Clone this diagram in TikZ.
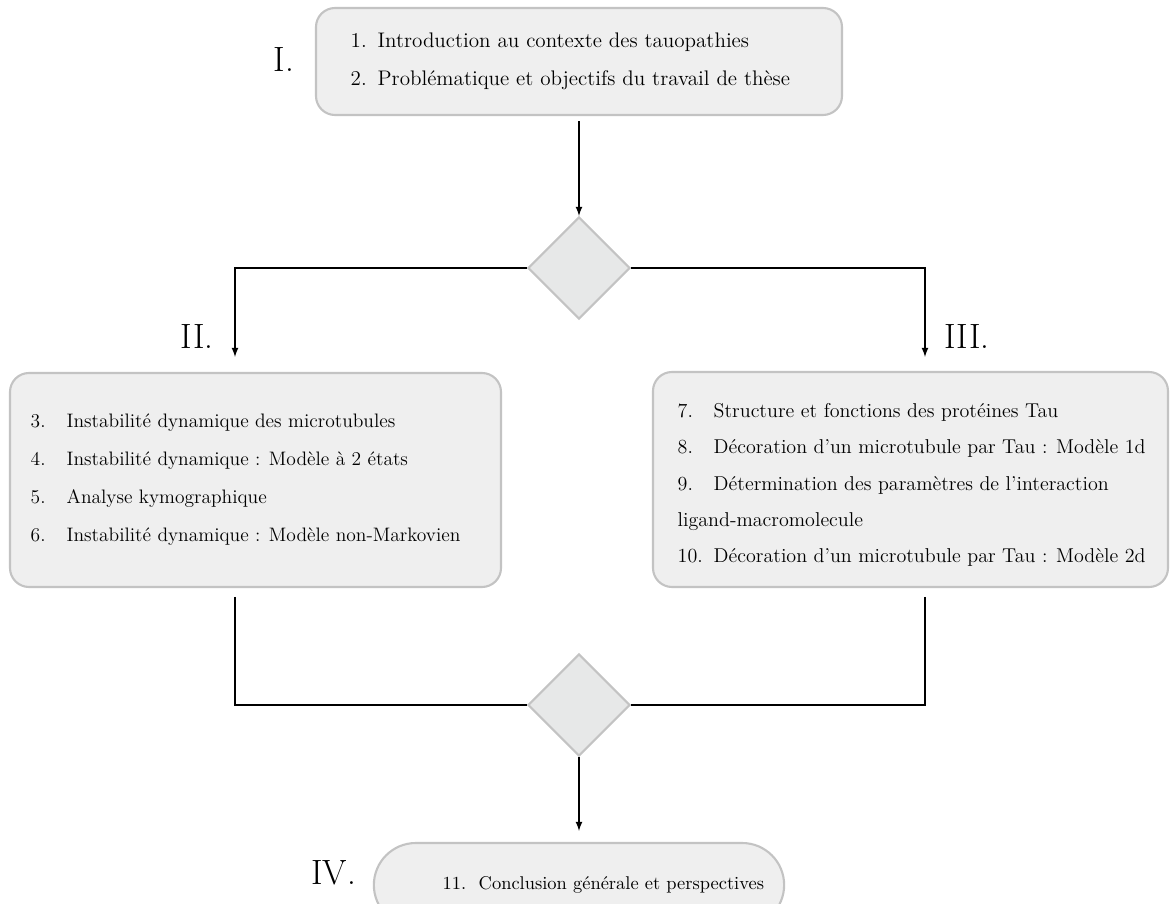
\documentclass[tikz,border=0pt]{standalone}
\usepackage{fontspec}
\usepackage{xcolor}
\usetikzlibrary{arrows, positioning, shapes.geometric, shapes.misc}

\definecolor{boxfill}{HTML}{EFEFEF}
\definecolor{boxline}{HTML}{C3C3C3}
\definecolor{diamfill}{HTML}{E7E8E8}

\newcommand{\itm}[3][0.72cm]{\makebox[#1][l]{#2}#3}

\begin{document}
\begin{tikzpicture}[>=latex,
				line width=0.8pt,
				box/.style={draw=boxline, fill=boxfill, line width=1.2pt, rounded corners=0.38cm},
				diam/.style={diamond, draw=boxline, fill=diamfill, line width=1.2pt, inner sep=0pt, minimum size=2.04cm},
				txt/.style={anchor=west, align=left, inner sep=0pt},
				roman/.style={font=\fontsize{20}{24}\selectfont}]
	\useasboundingbox (0,0) rectangle (23.4,18.06);
	\clip (0,0) rectangle (23.4,18.06);
	% part I
	\node at (11.58,16.83) (intro) [box, minimum width=10.52cm, minimum height=2.14cm] {};
	\node at (7.0,16.83) (introtxt) [txt, font=\fontsize{12}{22}\selectfont] {\itm[0.54cm]{1.}{Introduction au contexte des tauopathies}\\
		\itm[0.54cm]{2.}{Problématique et objectifs du travail de thèse}};
	\node at (5.68,16.86) (one) [roman] {I.};
	\node at (11.58,12.7) (d1) [diam] {};
	% parts II and III
	\node at (3.94,11.33) (two) [roman] {II.};
	\node at (19.34,11.33) (three) [roman] {III.};
	\coordinate (lin) at (4.7,10.92);
	\coordinate (rin) at (18.5,10.92);
	\node at (5.11,8.46) (dyn) [box, minimum width=9.82cm, minimum height=4.28cm] {};
	\node at (0.6,8.46) (dyntxt) [txt, font=\fontsize{11.1}{21.6}\selectfont] {\itm{3.}{Instabilité dynamique des microtubules}\\
		\itm{4.}{Instabilité dynamique : Modèle à 2 états}\\
		\itm{5.}{Analyse kymographique}\\
		\itm{6.}{Instabilité dynamique : Modèle non-Markovien}};
	\node at (18.21,8.47) (tau) [box, minimum width=10.30cm, minimum height=4.30cm] {};
	\node at (13.54,8.36) (tautxt) [txt, font=\fontsize{11.4}{20.6}\selectfont] {\itm{7.}{Structure et fonctions des protéines Tau}\\
		\itm{8.}{Décoration d'un microtubule par Tau : Modèle 1d}\\
		\itm{9.}{Détermination des paramètres de l'interaction}\\
		ligand-macromolecule\\
		\itm{10.}{Décoration d'un microtubule par Tau : Modèle 2d}};
	\coordinate (lout) at (4.7,6.12);
	\coordinate (rout) at (18.5,6.12);
	\node at (11.58,3.96) (d2) [diam] {};
	% part IV
	\node at (11.58,0.36) (concl) [rounded rectangle, draw=boxline, fill=boxfill, line width=1.2pt, minimum width=8.44cm, minimum height=1.68cm] {};
	\node at (8.84,0.36) (concltxt) [txt, font=\fontsize{10.5}{12}\selectfont] {\itm{11.}{Conclusion générale et perspectives}};
	\node at (6.67,0.6) (four) [roman] {IV.};
	% connectors
	\draw[->, shorten <=0.1cm] (intro.south) -- (d1.north);
	\draw[->] (d1.west) -| (lin);
	\draw[->] (d1.east) -| (rin);
	\draw (lout) |- (d2.west);
	\draw (rout) |- (d2.east);
	\draw[->, shorten >=0.22cm] (d2.south) -- (concl.north);
\end{tikzpicture}
\end{document}
